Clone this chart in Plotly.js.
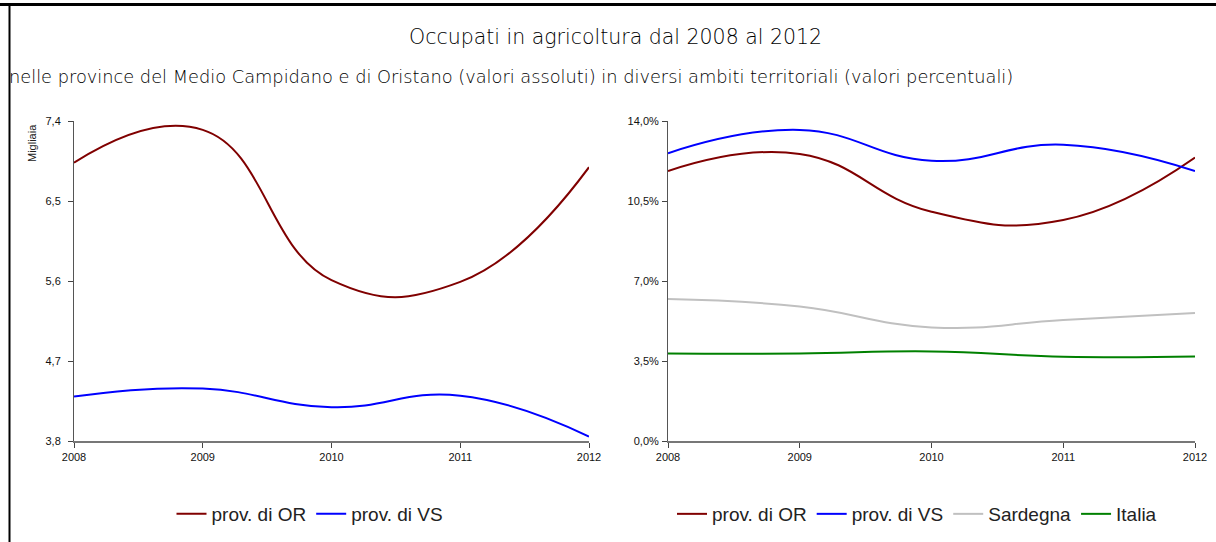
<!DOCTYPE html>
<html>
<head>
<meta charset="utf-8">
<script src="https://cdn.plot.ly/plotly-3.0.1.min.js"></script>
<style>html,body{margin:0;padding:0;background:#fff;}#chart{width:1216px;height:542px;}</style>
</head>
<body>
<div id="chart"></div>
<script>
// Data
const years = [2008, 2009, 2010, 2011, 2012];
const yearLabels = ["2008", "2009", "2010", "2011", "2012"];
// Left chart: absolute values (thousands)
const orAbs = [6.93, 7.30, 5.61, 5.59, 6.88];
const vsAbs = [4.30, 4.39, 4.18, 4.31, 3.85];
const leftTicks = [3.8, 4.7, 5.6, 6.5, 7.4];
const leftTickLabels = ["3,8", "4,7", "5,6", "6,5", "7,4"];
// Right chart: percentages
const orPct = [11.81, 12.56, 10.03, 9.67, 12.40];
const vsPct = [12.59, 13.61, 12.26, 12.96, 11.81];
const sarPct = [6.21, 5.88, 4.97, 5.29, 5.60];
const itaPct = [3.83, 3.83, 3.92, 3.69, 3.70];
const rightTicks = [0, 3.5, 7, 10.5, 14];
const rightTickLabels = ["0,0%", "3,5%", "7,0%", "10,5%", "14,0%"];

const titleText = "Occupati in agricoltura dal 2008 al 2012";
const subtitleText = "nelle province del Medio Campidano e di Oristano (valori assoluti) in diversi ambiti territoriali (valori percentuali)";
const yTitleLeft = "Migliaia";

const W = 1216, H = 542;
const px = v => v / W;
const py = v => 1 - v / H;

const cOR = "#800000", cVS = "#0000FF", cSar = "#C0C0C0", cIta = "#008000";
const lw = 2;

function tr(x, y, name, color, xa, ya, leg) {
  return {x: x, y: y, name: name, type: "scatter", mode: "lines",
    line: {color: color, width: lw, shape: "spline", smoothing: 1.3},
    xaxis: xa, yaxis: ya, legend: leg, hoverinfo: "skip"};
}

const data = [
  tr(years, orAbs, "prov. di OR", cOR, "x", "y", "legend"),
  tr(years, vsAbs, "prov. di VS", cVS, "x", "y", "legend"),
  tr(years, orPct, "prov. di OR", cOR, "x2", "y2", "legend2"),
  tr(years, vsPct, "prov. di VS", cVS, "x2", "y2", "legend2"),
  tr(years, sarPct, "Sardegna", cSar, "x2", "y2", "legend2"),
  tr(years, itaPct, "Italia", cIta, "x2", "y2", "legend2")
];

const tickFont = {family: "Liberation Sans, Arial, sans-serif", size: 11, color: "#111"};
function xAxis(domain, anchor) {
  return {domain: domain, anchor: anchor, range: [2008, 2012], tickmode: "array", tickvals: years, ticktext: yearLabels,
    showgrid: false, zeroline: false, showline: true, linecolor: "#777", linewidth: 2,
    ticks: "outside", ticklen: 5, tickcolor: "#444", tickwidth: 1, tickfont: tickFont, fixedrange: true};
}
function yAxis(domain, anchor, range, tickvals, ticktext, standoff) {
  return {domain: domain, anchor: anchor, range: range, tickmode: "array", tickvals: tickvals, ticktext: ticktext,
    showgrid: false, zeroline: false, showline: true, linecolor: "#555", linewidth: 1,
    ticks: "outside", ticklen: 5, tickcolor: "#444", tickwidth: 1, tickfont: tickFont,
    ticklabelstandoff: standoff, fixedrange: true};
}

const yDom = [py(441), py(121)];
const legFont = {family: "Liberation Sans, Arial, sans-serif", size: 19, color: "#222"};

const layout = {
  width: W, height: H,
  margin: {l: 0, r: 0, t: 0, b: 0},
  paper_bgcolor: "#fff", plot_bgcolor: "#fff",
  separators: ",.",
  showlegend: true,
  xaxis: xAxis([px(74), px(589)], "y"),
  yaxis: yAxis(yDom, "x", [3.8, 7.4], leftTicks, leftTickLabels, 5),
  xaxis2: xAxis([px(668), px(1195)], "y2"),
  yaxis2: yAxis(yDom, "x2", [0, 14], rightTicks, rightTickLabels, 1),
  legend: {orientation: "h", x: px(310), xanchor: "center", y: py(514), yanchor: "middle",
    font: legFont, bgcolor: "rgba(0,0,0,0)", itemwidth: 30, tracegroupgap: 0},
  legend2: {orientation: "h", x: px(917), xanchor: "center", y: py(514), yanchor: "middle",
    font: legFont, bgcolor: "rgba(0,0,0,0)", itemwidth: 30, tracegroupgap: 0},
  annotations: [
    {text: titleText, xref: "paper", yref: "paper", x: px(615), y: py(37), xanchor: "center", yanchor: "middle",
      showarrow: false, font: {family: "DejaVu Sans, sans-serif", size: 20.5, color: "#000", weight: 300}},
    {text: subtitleText, xref: "paper", yref: "paper", x: px(7), y: py(76), xanchor: "left", yanchor: "middle",
      showarrow: false, font: {family: "DejaVu Sans, sans-serif", size: 17.8, color: "#000", weight: 300}},
    {text: yTitleLeft, xref: "paper", yref: "paper", x: px(32), y: py(143), xanchor: "center", yanchor: "middle",
      textangle: -90, showarrow: false, font: {family: "Liberation Sans, Arial, sans-serif", size: 11, color: "#222"}}
  ],
  shapes: [
    {type: "line", xref: "paper", yref: "paper", x0: 0, x1: 1, y0: py(4.5), y1: py(4.5), line: {color: "#000", width: 3}},
    {type: "line", xref: "paper", yref: "paper", x0: px(9.5), x1: px(9.5), y0: py(3), y1: 0, line: {color: "#000", width: 2}}
  ]
};

Plotly.newPlot("chart", data, layout, {displayModeBar: false, staticPlot: true});
</script>
</body>
</html>
